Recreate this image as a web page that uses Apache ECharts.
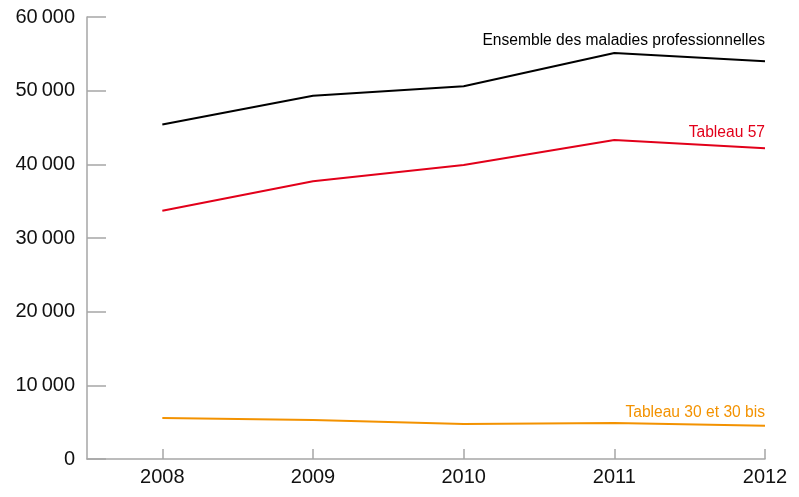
<!DOCTYPE html>
<html><head><meta charset="utf-8">
<script src="https://cdn.jsdelivr.net/npm/echarts@6/dist/echarts.min.js"></script>
<style>html,body{margin:0;padding:0;background:#fff}#c{width:799px;height:497px}</style>
</head><body><div id="c"></div>
<script>
const years = [2008, 2009, 2010, 2011, 2012];
const ensemble = [45400, 49300, 50600, 55100, 54000];
const tableau57 = [33700, 37700, 39900, 43300, 42200];
const tableau30 = [5550, 5300, 4750, 4900, 4500];
const names = ['Ensemble des maladies professionnelles', 'Tableau 57', 'Tableau 30 et 30 bis'];
const colors = ['#000000', '#e2001a', '#f39200'];

const font = '"Liberation Sans", Arial, sans-serif';
function mk(i, vals, dy) {
  return {
    type: 'line', name: names[i], symbol: 'none', silent: true,
    lineStyle: { color: colors[i], width: 2 },
    itemStyle: { color: colors[i] },
    endLabel: { show: true, align: 'right', verticalAlign: 'bottom', offset: [-8, -dy],
      formatter: names[i], color: colors[i], fontSize: 15.6, fontFamily: font },
    data: vals.map((v, k) => [years[k], v])
  };
}
const chart = echarts.init(document.getElementById('c'));
chart.setOption({
  animation: false,
  textStyle: { fontFamily: font },
  grid: { left: 87, right: 34, top: 17, bottom: 38 },
  xAxis: {
    type: 'value', min: 2007.5, max: 2012,
    axisLine: { lineStyle: { color: '#a6a6a6', width: 1.5 } },
    axisTick: { inside: true, length: 10, customValues: years, lineStyle: { color: '#a6a6a6', width: 1.5 } },
    axisLabel: { customValues: years, color: '#111', fontSize: 20, fontFamily: font, margin: 8,
      formatter: v => String(v) },
    splitLine: { show: false }
  },
  yAxis: {
    type: 'value', min: 0, max: 60000, interval: 10000,
    axisLine: { show: true, lineStyle: { color: '#a6a6a6', width: 1.5 } },
    axisTick: { show: true, inside: true, length: 19, lineStyle: { color: '#a6a6a6', width: 1.5 } },
    axisLabel: { color: '#111', fontSize: 20, fontFamily: font, margin: 12,
      formatter: v => v === 0 ? '0' : String(v).replace(/\B(?=(\d{3})+(?!\d))/g, '\u2009') },
    splitLine: { show: false }
  },
  series: [mk(0, ensemble, 13), mk(1, tableau57, 7), mk(2, tableau30, 5)]
});
</script></body></html>
